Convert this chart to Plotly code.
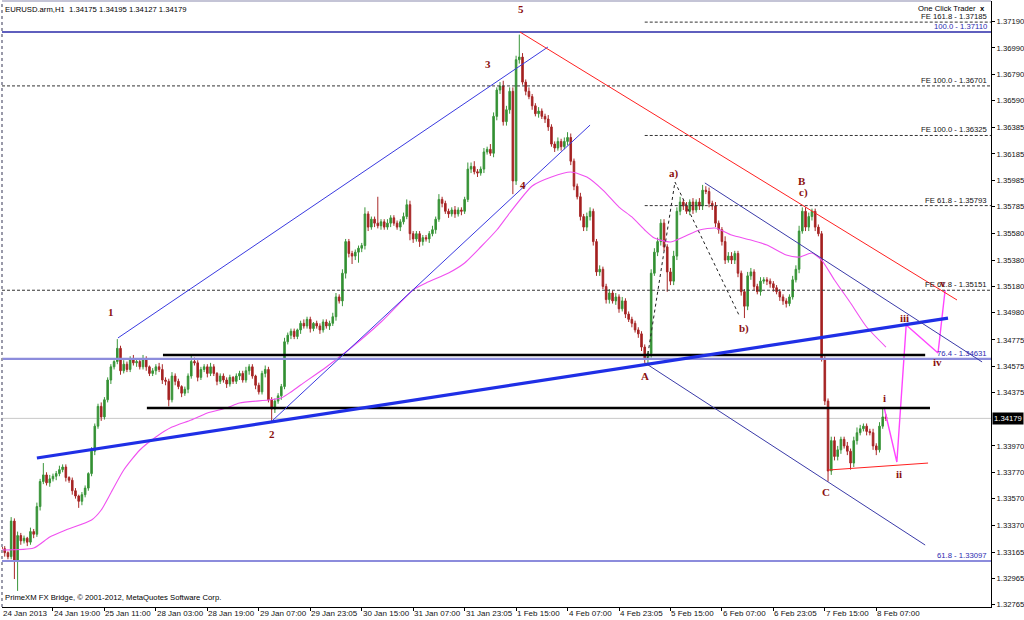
import plotly.graph_objects as go

# ---------------- data ----------------
first_open = 1.3322
closes = [
    1.3319, 1.3316, 1.3313, 1.3340, 1.3310, 1.3329, 1.3325, 1.3327, 1.3324, 1.3332,
    1.3330, 1.3351, 1.3370, 1.3375, 1.3369, 1.3372, 1.3374, 1.3376, 1.3379, 1.3381,
    1.3373, 1.3371, 1.3363, 1.3359, 1.3355, 1.3360, 1.3365, 1.3376, 1.3393, 1.3412,
    1.3427, 1.3419, 1.3432, 1.3447, 1.3457, 1.3461, 1.3471, 1.3454, 1.3459, 1.3455,
    1.3463, 1.3460, 1.3461, 1.3457, 1.3463, 1.3457, 1.3452, 1.3454, 1.3457, 1.3455,
    1.3447, 1.3446, 1.3432, 1.3450, 1.3446, 1.3442, 1.3437, 1.3440, 1.3450, 1.3461,
    1.3460, 1.3449, 1.3455, 1.3457, 1.3452, 1.3457, 1.3452, 1.3446, 1.3450, 1.3447,
    1.3444, 1.3449, 1.3446, 1.3450, 1.3452, 1.3447, 1.3454, 1.3457, 1.3450, 1.3443,
    1.3438, 1.3452, 1.3455, 1.3432, 1.3425, 1.3431, 1.3435, 1.3442, 1.3476, 1.3481,
    1.3484, 1.3480, 1.3485, 1.3490, 1.3488, 1.3493, 1.3486, 1.3490, 1.3488, 1.3485,
    1.3491, 1.3488, 1.3490, 1.3495, 1.3510, 1.3507, 1.3528, 1.3552, 1.3543, 1.3541,
    1.3544, 1.3547, 1.3549, 1.3573, 1.3563, 1.3569, 1.3566, 1.3564, 1.3567, 1.3563,
    1.3566, 1.3570, 1.3566, 1.3563, 1.3567, 1.3571, 1.3580, 1.3558, 1.3554, 1.3558,
    1.3552, 1.3555, 1.3554, 1.3558, 1.3561, 1.3569, 1.3584, 1.3581, 1.3575, 1.3573,
    1.3576, 1.3573, 1.3576, 1.3575, 1.3584, 1.3607, 1.3609, 1.3605, 1.3604, 1.3607,
    1.3620, 1.3622, 1.3619, 1.3647, 1.3667, 1.3670, 1.3643, 1.3652, 1.3666, 1.3598,
    1.3690, 1.3692, 1.3673, 1.3666, 1.3662, 1.3655, 1.3649, 1.3651, 1.3647, 1.3645,
    1.3639, 1.3626, 1.3623, 1.3628, 1.3624, 1.3628, 1.3631, 1.3613, 1.3594, 1.3586,
    1.3571, 1.3563, 1.3571, 1.3575, 1.3552, 1.3529, 1.3531, 1.3518, 1.3508, 1.3513,
    1.3507, 1.3510, 1.3501, 1.3507, 1.3497, 1.3493, 1.3490, 1.3485, 1.3482, 1.3472,
    1.3463, 1.3467, 1.3528, 1.3544, 1.3552, 1.3566, 1.3548, 1.3529, 1.3522, 1.3541,
    1.3575, 1.3582, 1.3579, 1.3575, 1.3582, 1.3576, 1.3582, 1.3579, 1.3591, 1.3590,
    1.3581, 1.3579, 1.3566, 1.3561, 1.3552, 1.3538, 1.3541, 1.3538, 1.3543, 1.3528,
    1.3514, 1.3503, 1.3526, 1.3529, 1.3518, 1.3514, 1.3522, 1.3523, 1.3522, 1.3520,
    1.3517, 1.3514, 1.3510, 1.3507, 1.3505, 1.3510, 1.3523, 1.3531, 1.3560, 1.3575,
    1.3563, 1.3571, 1.3575, 1.3563, 1.3558, 1.3463, 1.3431, 1.3378, 1.3401, 1.3389,
    1.3394, 1.3402, 1.3397, 1.3393, 1.3384, 1.3401, 1.3407, 1.3410, 1.3412, 1.3408,
    1.3407, 1.3397, 1.3394, 1.3412, 1.3419, 1.34179,
]
# wick lengths beyond the body, in pips
wick_up = [
    2, 2, 1, 3, 2, 3, 2, 2, 1, 3, 2, 3, 2, 9, 2, 3, 2, 2, 3, 2,
    2, 1, 2, 2, 1, 2, 2, 1, 3, 2, 2, 3, 2, 2, 2, 1, 7, 2, 3, 2,
    2, 3, 2, 2, 3, 2, 1, 2, 2, 3, 4, 2, 2, 3, 2, 2, 1, 2, 2, 5,
    3, 2, 2, 2, 2, 3, 2, 1, 2, 2, 2, 2, 1, 2, 2, 2, 3, 2, 2, 1,
    2, 2, 3, 2, 2, 2, 2, 2, 3, 2, 2, 2, 1, 2, 3, 2, 2, 1, 2, 2,
    2, 2, 2, 3, 3, 2, 3, 2, 2, 2, 2, 2, 2, 5, 2, 2, 2, 20, 2, 2,
    3, 2, 2, 2, 2, 3, 4, 3, 2, 2, 2, 2, 2, 2, 3, 2, 4, 2, 2, 2,
    2, 3, 2, 2, 2, 5, 3, 4, 2, 2, 3, 2, 4, 3, 2, 3, 4, 3, 3, 3,
    3, 17, 3, 2, 3, 2, 2, 3, 2, 2, 3, 2, 2, 3, 2, 3, 4, 3, 2, 2,
    3, 2, 3, 3, 2, 2, 3, 2, 2, 3, 2, 3, 2, 3, 2, 2, 2, 2, 2, 2,
    2, 2, 3, 3, 3, 3, 3, 2, 3, 4, 3, 4, 2, 3, 2, 3, 2, 3, 4, 3,
    3, 2, 3, 2, 2, 4, 3, 3, 2, 2, 2, 2, 3, 3, 2, 2, 3, 2, 2, 2,
    2, 2, 2, 2, 2, 2, 3, 3, 4, 3, 3, 3, 2, 2, 2, 2, 2, 2, 3, 3,
    3, 2, 2, 3, 2, 3, 4, 3, 2, 2, 2, 3, 2, 3, 6, 2,
]
wick_dn = [
    2, 3, 2, 2, 14, 23, 3, 2, 3, 2, 3, 2, 3, 2, 2, 3, 2, 3, 2, 2,
    3, 2, 3, 2, 5, 3, 2, 2, 2, 3, 2, 3, 2, 2, 3, 2, 2, 3, 2, 2,
    2, 2, 3, 2, 2, 3, 2, 2, 3, 2, 3, 3, 5, 2, 3, 2, 3, 2, 3, 2,
    2, 3, 2, 2, 3, 2, 2, 3, 2, 2, 3, 2, 2, 2, 3, 2, 2, 3, 2, 3,
    2, 2, 3, 2, 10, 3, 2, 3, 2, 2, 3, 2, 2, 3, 2, 2, 3, 2, 2, 3,
    2, 2, 3, 2, 3, 2, 4, 4, 3, 6, 3, 8, 3, 3, 3, 2, 3, 2, 3, 2,
    2, 3, 2, 2, 3, 2, 2, 5, 3, 2, 4, 3, 2, 3, 2, 3, 2, 3, 2, 3,
    2, 3, 2, 3, 2, 2, 3, 2, 3, 2, 3, 2, 2, 3, 3, 3, 3, 3, 3, 10,
    3, 3, 2, 3, 2, 3, 2, 3, 2, 3, 3, 2, 3, 2, 3, 2, 3, 3, 3, 2,
    3, 3, 3, 3, 3, 3, 3, 2, 3, 3, 2, 3, 3, 2, 3, 2, 3, 2, 3, 3,
    3, 4, 3, 2, 3, 3, 3, 15, 3, 3, 3, 3, 3, 2, 3, 3, 2, 3, 3, 2,
    3, 3, 3, 3, 3, 3, 2, 3, 3, 3, 3, 9, 3, 3, 3, 2, 3, 2, 3, 3,
    3, 2, 3, 3, 3, 2, 2, 2, 3, 2, 3, 3, 3, 3, 2, 2, 3, 8, 3, 3,
    3, 3, 2, 3, 5, 3, 3, 2, 2, 3, 2, 3, 4, 2, 2, 2,
]

x_tick_labels = ["24 Jan 2013", "24 Jan 19:00", "25 Jan 11:00", "28 Jan 03:00", "28 Jan 19:00",
                 "29 Jan 07:00", "29 Jan 23:05", "30 Jan 15:00", "31 Jan 07:00", "31 Jan 23:05",
                 "1 Feb 15:00", "4 Feb 07:00", "4 Feb 23:05", "5 Feb 15:00", "6 Feb 07:00",
                 "6 Feb 23:05", "7 Feb 15:00", "8 Feb 07:00"]
x_tick_step = 16
y_tick_values = [1.37190, 1.36990, 1.36790, 1.36590, 1.36385, 1.36185, 1.35985, 1.35785,
                 1.35580, 1.35380, 1.35180, 1.34980, 1.34775, 1.34575, 1.34375, 1.33970,
                 1.33770, 1.33570, 1.33370, 1.33165, 1.32965, 1.32765]
last_price = 1.34179

# moving average (magenta) read at sample bars
ma_bars = [0, 10, 15, 20, 28, 31, 34, 38, 43, 48, 53, 59, 64, 70, 74, 83, 87, 90, 93, 101,
           109, 118, 128, 132, 139, 144, 149, 154, 158, 165, 171, 177, 182, 187, 192, 196,
           200, 203, 208, 212, 217, 222, 227, 233, 238, 244, 248, 252, 255, 259, 264, 269, 275]
ma_vals = [1.33180, 1.33195, 1.33279, 1.33332, 1.33408, 1.33484, 1.33613, 1.33787, 1.33939,
           1.34038, 1.34113, 1.34167, 1.34220, 1.34258, 1.34296, 1.34318, 1.34334, 1.34379,
           1.34432, 1.34569, 1.34720, 1.34910, 1.35153, 1.35206, 1.35282, 1.35358, 1.35479,
           1.35608, 1.35737, 1.35942, 1.36010, 1.36048, 1.36010, 1.35911, 1.35782, 1.35707,
           1.35608, 1.35547, 1.35517, 1.35555, 1.35608, 1.35623, 1.35570, 1.35532, 1.35494,
           1.35418, 1.35403, 1.35433, 1.35380, 1.35229, 1.35054, 1.34872, 1.34720]

# Fibonacci expansion (dashed black) levels
fe_levels = [1.37185, 1.36701, 1.36325, 1.35793, 1.35151]
fe_labels = ["FE 161.8 - 1.37185", "FE 100.0 - 1.36701", "FE 100.0 - 1.36325",
             "FE 61.8 - 1.35793", "FE 61.8 - 1.35151"]
fe_start_bar = [200, None, 200, 200, None]
# Fibonacci retracement (blue) levels
fib_levels = [1.37110, 1.34631, 1.33097]
fib_labels = ["100.0 - 1.37110", "76.4 - 1.34631", "61.8 - 1.33097"]
fib_colors = ["#2a2aa8", "#8c8cdc", "#8c8cdc"]
fib_widths = [1.3, 2.2, 2.2]
# black support / resistance lines
sr_levels = [1.34660, 1.34258]
sr_start = [50.2, 45.2]
sr_end = [287.2, 288.7]

# trend lines: bar0, price0, bar1, price1
trend_lines = [
    (11.0, 1.33878, 294.3, 1.34940, "#1f2fe6", 3.2),   # long rising support
    (36.2, 1.34789, 169.9, 1.36996, "#3a3ae0", 1.0),   # upper channel
    (84.1, 1.34159, 183.0, 1.36404, "#3a3ae0", 1.0),   # lower channel
    (218.7, 1.35965, 304.9, 1.34607, "#3a3aa8", 1.0),  # falling channel top
    (200.1, 1.34599, 287.2, 1.33218, "#3a3aa8", 1.0),  # falling channel bottom
    (161.2, 1.37110, 297.1, 1.35077, "#ff2020", 1.0),  # red resistance
    (257.0, 1.33787, 288.1, 1.33840, "#ff2020", 1.0),  # red base under C
]
abc_bars = [200.7, 209.4, 229.6]
abc_prices = [1.34622, 1.35972, 1.34948]
proj_bars = [274.4, 278.4, 281.3, 291.2, 293.4]
proj_prices = [1.34265, 1.33848, 1.34887, 1.34675, 1.35153]

wave_text = ["5", "3", "4", "1", "2", "A", "a)", "b)", "B", "c)", "C", "i", "ii", "iii", "iv", "v"]
wave_bar = [161.5, 151.3, 162.2, 34.0, 84.1, 200.1, 209.1, 230.9, 248.9, 249.5, 256.4,
            274.4, 279.1, 280.9, 290.9, 292.8]
wave_price = [1.37284, 1.36867, 1.35949, 1.34986, 1.34060, 1.34500, 1.36040, 1.34857,
              1.35980, 1.35889, 1.33620, 1.34334, 1.33757, 1.34940, 1.34607, 1.35206]

# ---------------- build ----------------
n = len(closes)
wick_up = (wick_up + [2] * n)[:n]
wick_dn = (wick_dn + [2] * n)[:n]
bars = list(range(n))
opens = [first_open] + closes[:-1]
highs = [max(o, c) + u / 10000 for o, c, u in zip(opens, closes, wick_up)]
lows = [min(o, c) - d / 10000 for o, c, d in zip(opens, closes, wick_dn)]

W, H = 1024, 620
L, R, T, B = 2, 33, 1, 13
X_RANGE = [0.15, 307.67]
Y_RANGE = [1.32748, 1.373452]
FONT = "Liberation Sans"
SMALL = 7.7
WAVE_COLOR = "#8b1010"

fig = go.Figure()
fig.add_trace(go.Candlestick(
    x=bars, open=opens, high=highs, low=lows, close=closes,
    increasing=dict(line=dict(color="#3a963a", width=1), fillcolor="#2f8a2f"),
    decreasing=dict(line=dict(color="#a82828", width=1), fillcolor="#a01c1c"),
    whiskerwidth=0, showlegend=False, hoverinfo="skip"))

fig.add_trace(go.Scatter(x=ma_bars, y=ma_vals, mode="lines",
                         line=dict(color="#f050f0", width=1.1, shape="spline", smoothing=0.6),
                         showlegend=False, hoverinfo="skip"))
fig.add_trace(go.Scatter(x=abc_bars, y=abc_prices, mode="lines",
                         line=dict(color="#222222", width=1, dash="dot"),
                         showlegend=False, hoverinfo="skip"))
fig.add_trace(go.Scatter(x=proj_bars, y=proj_prices, mode="lines",
                         line=dict(color="#ff44ff", width=1.4),
                         showlegend=False, hoverinfo="skip"))

shapes = []
annotations = []
px_w = W - L - R


def paper_x(px):
    return (px - L) / px_w


def bar_to_paper(b):
    return max(0.0, (b - X_RANGE[0]) / (X_RANGE[1] - X_RANGE[0]))


# current price line
shapes.append(dict(type="line", xref="paper", x0=0, x1=1, yref="y", y0=last_price, y1=last_price,
                   line=dict(color="#c8c8c8", width=1), layer="below"))

for lvl, lab, sb in zip(fe_levels, fe_labels, fe_start_bar):
    if sb is None:
        shapes.append(dict(type="line", xref="paper", x0=0, x1=1, yref="y", y0=lvl, y1=lvl,
                           line=dict(color="#333333", width=1, dash="3px,2px")))
    else:
        shapes.append(dict(type="line", xref="x", x0=sb, x1=X_RANGE[1], yref="y", y0=lvl, y1=lvl,
                           line=dict(color="#333333", width=1, dash="3px,2px")))
    annotations.append(dict(xref="paper", x=paper_x(988), yref="y", y=lvl, text=lab,
                            xanchor="right", yanchor="bottom", showarrow=False, borderpad=0,
                            font=dict(family=FONT, size=SMALL, color="#111111")))

for lvl, lab, col, wd in zip(fib_levels, fib_labels, fib_colors, fib_widths):
    shapes.append(dict(type="line", xref="paper", x0=0, x1=1, yref="y", y0=lvl, y1=lvl,
                       line=dict(color=col, width=wd)))
    annotations.append(dict(xref="paper", x=paper_x(988), yref="y", y=lvl, text=lab,
                            xanchor="right", yanchor="bottom", showarrow=False, borderpad=0,
                            font=dict(family=FONT, size=SMALL, color="#2a2ab0")))

for lvl, s, e in zip(sr_levels, sr_start, sr_end):
    shapes.append(dict(type="line", xref="x", x0=s, x1=e, yref="y", y0=lvl, y1=lvl,
                       line=dict(color="#000000", width=2.6)))

for b0, p0, b1, p1, col, wd in trend_lines:
    shapes.append(dict(type="line", xref="x", x0=b0, x1=b1, yref="y", y0=p0, y1=p1,
                       line=dict(color=col, width=wd)))

# frame: dotted left border, top border
shapes.append(dict(type="line", xref="paper", x0=0, x1=0, yref="paper", y0=0, y1=1,
                   line=dict(color="#9a9aaa", width=2, dash="dot")))
shapes.append(dict(type="line", xref="paper", x0=0, x1=1, yref="paper", y0=1, y1=1,
                   line=dict(color="#b0b0c8", width=1.5)))

for t, b, p in zip(wave_text, wave_bar, wave_price):
    annotations.append(dict(xref="x", x=b, yref="y", y=p, text="<b>%s</b>" % t, showarrow=False,
                            font=dict(family="Liberation Serif", size=11, color=WAVE_COLOR)))

# x tick labels (left aligned after tick, MT4 style)
for k, lab in enumerate(x_tick_labels):
    annotations.append(dict(xref="paper", x=bar_to_paper(k * x_tick_step), yref="paper", y=0,
                            yshift=-1, text=lab, xanchor="left", yanchor="top", showarrow=False,
                            borderpad=0, font=dict(family=FONT, size=8, color="#111111")))

# headers
annotations.append(dict(xref="paper", x=paper_x(4), yref="paper", y=1, yshift=-3,
                        text="EURUSD.arm,H1  1.34175 1.34195 1.34127 1.34179",
                        xanchor="left", yanchor="top", showarrow=False, borderpad=0,
                        font=dict(family=FONT, size=SMALL, color="#000000")))
annotations.append(dict(xref="paper", x=paper_x(4), yref="paper", y=0, yshift=4,
                        text="PrimeXM FX Bridge, © 2001-2012, MetaQuotes Software Corp.",
                        xanchor="left", yanchor="bottom", showarrow=False, borderpad=0,
                        font=dict(family=FONT, size=SMALL, color="#000000")))
annotations.append(dict(xref="paper", x=paper_x(986), yref="paper", y=1, yshift=-2,
                        text="One Click Trader  <b>x</b>",
                        xanchor="right", yanchor="top", showarrow=False, borderpad=0,
                        font=dict(family=FONT, size=SMALL, color="#000000")))
# current price box
annotations.append(dict(xref="paper", x=1, xshift=1, yref="y", y=last_price, text="%.5f" % last_price,
                        xanchor="left", yanchor="middle", showarrow=False, borderpad=1,
                        bgcolor="#000000", font=dict(family=FONT, size=SMALL, color="#ffffff")))

fig.update_layout(
    width=W, height=H, margin=dict(l=L, r=R, t=T, b=B, autoexpand=False),
    paper_bgcolor="white", plot_bgcolor="white",
    shapes=shapes, annotations=annotations, showlegend=False,
    xaxis=dict(range=X_RANGE, rangeslider=dict(visible=False), showgrid=False, zeroline=False,
               showline=True, linecolor="#000000", linewidth=1,
               tickvals=[k * x_tick_step for k in range(len(x_tick_labels))],
               showticklabels=False, ticks="outside", ticklen=3, tickcolor="#000000",
               automargin=False),
    yaxis=dict(range=Y_RANGE, side="right", showgrid=False, zeroline=False,
               showline=True, linecolor="#000000", linewidth=1,
               tickvals=y_tick_values, ticktext=["%.5f" % v for v in y_tick_values],
               ticks="outside", ticklen=3, tickcolor="#000000",
               tickfont=dict(family=FONT, size=SMALL, color="#111111"),
               automargin=False),
)

fig.write_html("out.html", config={"displayModeBar": False},
               post_script="document.body.style.margin='0';document.body.style.padding='0';"
                           "document.body.style.overflow='hidden';")
